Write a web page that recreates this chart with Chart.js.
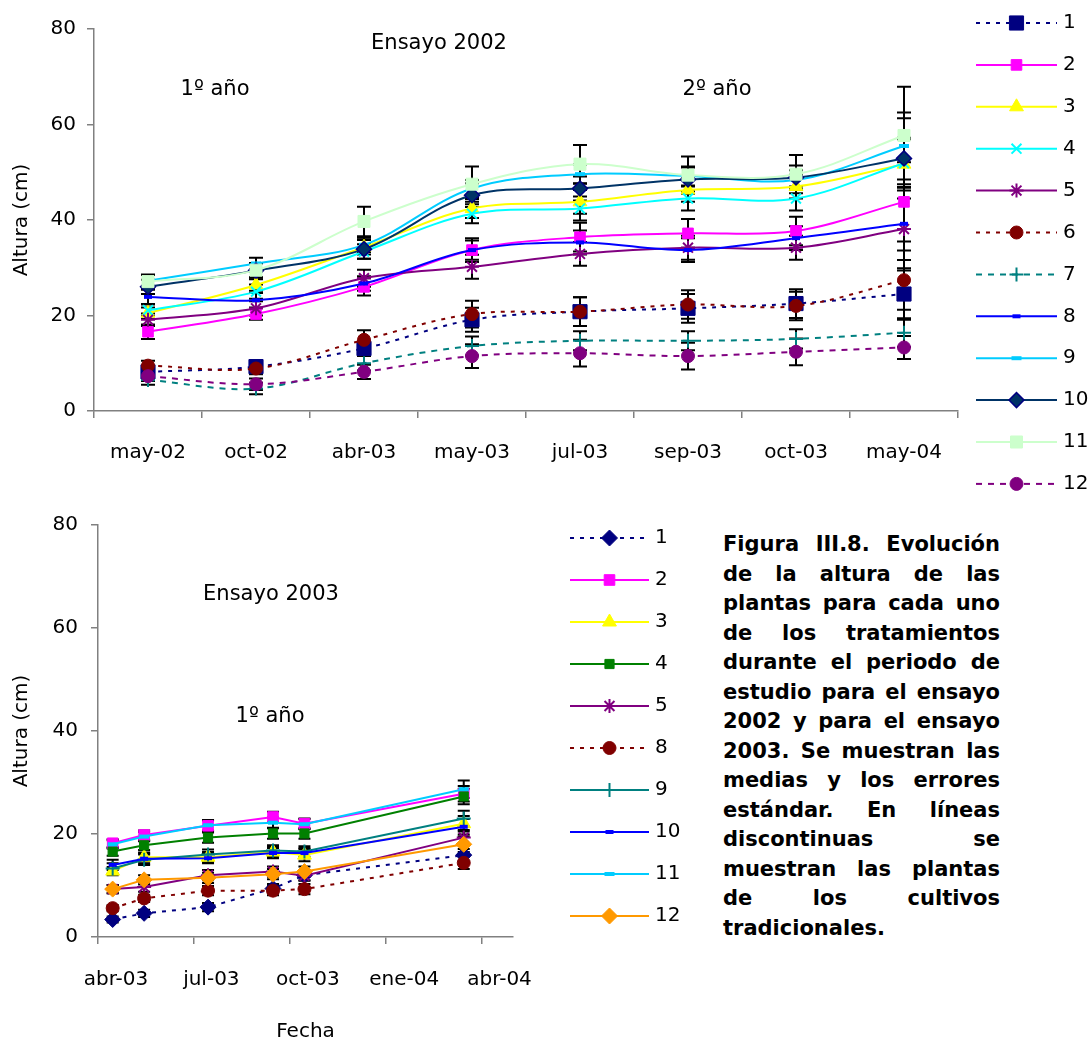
<!DOCTYPE html>
<html lang="es">
<head>
<meta charset="utf-8">
<title>Evolución de la altura de las plantas</title>
<script src="https://cdn.jsdelivr.net/npm/chart.js@4.4.1/dist/chart.umd.min.js"></script>
<style>
  html, body { margin: 0; padding: 0; background: #fff; }
  body { width: 1089px; height: 1044px; position: relative; overflow: hidden; font-family: 'DejaVu Sans', sans-serif; }
  .caja { position: absolute; }
  .nota { position: absolute; font-size: 21px; color: #000; white-space: nowrap; transform: translate(-50%, -50%); }
  #pie { position: absolute; left: 723px; top: 530px; width: 277px; font-weight: bold; font-size: 21px; line-height: 29.5px; color: #000; }
  #pie div { text-align: justify; text-align-last: justify; }
  #pie div.fin { text-align-last: left; }
</style>
</head>
<body>

<div class="caja" style="left:0;top:0;width:1089px;height:500px"><canvas id="graf2002"></canvas></div>
<div class="caja" style="left:0;top:500px;width:700px;height:544px"><canvas id="graf2003"></canvas></div>

<div class="nota" style="left:439px;top:42px">Ensayo 2002</div>
<div class="nota" style="left:215px;top:88px">1º año</div>
<div class="nota" style="left:717px;top:88px">2º año</div>
<div class="nota" style="left:271px;top:593px">Ensayo 2003</div>
<div class="nota" style="left:270px;top:715px">1º año</div>

<div id="pie">
  <div>Figura III.8. Evolución</div>
  <div>de la altura de las</div>
  <div>plantas para cada uno</div>
  <div>de los tratamientos</div>
  <div>durante el periodo de</div>
  <div>estudio para el ensayo</div>
  <div>2002 y para el ensayo</div>
  <div>2003. Se muestran las</div>
  <div>medias y los errores</div>
  <div>estándar. En líneas</div>
  <div>discontinuas se</div>
  <div>muestran las plantas</div>
  <div>de los cultivos</div>
  <div class="fin">tradicionales.</div>
</div>

<script>
// Ensayo 2002: fechas de muestreo (eje de categorías)
const fechas2002 = ['may-02', 'oct-02', 'abr-03', 'may-03', 'jul-03', 'sep-03', 'oct-03', 'may-04'];

// Altura media (cm) por tratamiento, ensayo 2002
const t1_2002  = [8.2, 9.3, 13.1, 19.1, 20.8, 21.5, 22.5, 24.5];
const t2_2002  = [16.6, 20.3, 26.0, 33.7, 36.4, 37.2, 37.7, 43.8];
const t3_2002  = [20.5, 26.4, 34.3, 42.4, 43.8, 46.3, 47.0, 51.7];
const t4_2002  = [21.1, 25.0, 33.4, 41.3, 42.4, 44.5, 44.5, 51.9];
const t5_2002  = [19.1, 21.5, 27.8, 30.2, 32.9, 34.2, 34.2, 38.1];
const t6_2002  = [9.5, 8.9, 14.9, 20.3, 20.8, 22.3, 22.0, 27.4];
const t7_2002  = [6.5, 4.7, 10.0, 13.6, 14.7, 14.7, 15.1, 16.4];
const t8_2002  = [23.9, 23.2, 26.7, 33.7, 35.3, 33.7, 36.2, 39.2];
const t9_2002  = [27.3, 30.9, 34.8, 46.6, 49.6, 49.2, 48.4, 55.5];
const t10_2002 = [26.0, 29.4, 33.9, 45.2, 46.6, 48.5, 48.9, 52.9];
const t11_2002 = [27.1, 29.5, 39.7, 47.5, 51.7, 49.4, 49.6, 57.7];
const t12_2002 = [7.3, 5.6, 8.2, 11.5, 12.1, 11.5, 12.4, 13.3];

// Error estándar (cm), ensayo 2002
const e1_2002  = [1.2, 1.2, 1.5, 2.5, 3.0, 3.0, 3.0, 5.4];
const e2_2002  = [1.5, 1.2, 1.8, 2.5, 3.0, 3.0, 3.0, 8.3];
const e3_2002  = [1.2, 1.2, 1.5, 2.0, 2.5, 2.5, 2.5, 5.5];
const e4_2002  = [1.2, 1.5, 1.5, 2.0, 2.5, 2.5, 2.5, 5.0];
const e5_2002  = [1.3, 1.5, 1.8, 2.5, 2.5, 2.5, 2.5, 8.7];
const e6_2002  = [1.0, 1.2, 2.0, 2.8, 3.0, 3.0, 3.0, 6.2];
const e7_2002  = [1.0, 1.2, 1.5, 2.0, 2.0, 2.0, 2.0, 3.0];
const e8_2002  = [1.5, 1.5, 1.5, 2.0, 2.5, 2.5, 2.5, 7.6];
const e9_2002  = [1.2, 1.2, 1.5, 1.8, 2.0, 2.0, 2.0, 7.0];
const e10_2002 = [1.5, 1.5, 2.0, 2.5, 2.5, 2.5, 2.5, 8.4];
const e11_2002 = [1.5, 1.5, 3.1, 3.7, 4.0, 3.9, 4.0, 10.2];
const e12_2002 = [1.0, 1.2, 1.5, 2.5, 2.8, 2.8, 2.8, 2.4];

// Ensayo 2003: fechas de muestreo y eje de tiempo
const fechas2003 = ['2003-04-15', '2003-05-15', '2003-07-15', '2003-09-15', '2003-10-15', '2004-03-15'];
const marcas2003 = ['2003-04-01', '2003-07-01', '2003-10-01', '2004-01-01', '2004-04-01'];
const etiquetas2003 = ['abr-03', 'jul-03', 'oct-03', 'ene-04', 'abr-04'];
const inicio2003 = '2003-04-01';
const final2003 = '2004-05-01';

// Altura media (cm) por tratamiento, ensayo 2003
const t1_2003  = [3.4, 4.6, 5.8, 9.4, 12.0, 15.9];
const t2_2003  = [18.2, 19.8, 21.6, 23.3, 22.0, 27.8];
const t3_2003  = [12.8, 15.5, 15.5, 16.5, 15.9, 22.0];
const t4_2003  = [16.6, 17.8, 19.3, 20.1, 20.1, 27.3];
const t5_2003  = [9.3, 9.7, 12.0, 12.7, 11.9, 19.3];
const t8_2003  = [5.6, 7.5, 9.0, 9.0, 9.3, 14.4];
const t9_2003  = [13.3, 15.0, 16.0, 16.8, 16.6, 23.0];
const t10_2003 = [14.0, 15.2, 15.3, 16.3, 16.3, 21.4];
const t11_2003 = [18.0, 19.5, 21.7, 22.2, 21.9, 28.7];
const t12_2003 = [9.3, 11.1, 11.5, 12.2, 12.7, 18.0];

// Error estándar (cm), ensayo 2003
const e1_2003  = [0.6, 0.7, 0.8, 0.9, 1.0, 1.2];
const e2_2003  = [0.8, 0.9, 1.0, 1.0, 1.0, 1.5];
const e3_2003  = [0.8, 0.9, 1.0, 1.0, 1.2, 1.5];
const e4_2003  = [0.8, 0.9, 1.0, 1.0, 1.0, 1.5];
const e5_2003  = [0.8, 0.9, 1.0, 1.0, 1.0, 1.5];
const e8_2003  = [0.6, 0.7, 0.9, 0.9, 1.0, 1.2];
const e9_2003  = [1.0, 1.0, 1.0, 1.0, 1.0, 1.5];
const e10_2003 = [1.0, 1.0, 1.0, 1.0, 1.0, 1.5];
const e11_2003 = [0.8, 0.9, 1.0, 1.0, 1.0, 1.7];
const e12_2003 = [0.8, 0.9, 1.0, 1.0, 1.0, 1.5];

const FUENTE = { family: "'DejaVu Sans', sans-serif", size: 20 };
const GRIS = '#808080';

// dias transcurridos desde el inicio del eje 2003
const dias = f => (Date.parse(f) - Date.parse(inicio2003)) / 86400000;

// Barras de error negras, dibujadas bajo las líneas
const barrasError = {
  id: 'barrasError',
  beforeDatasetsDraw(chart, args, opts) {
    const ctx = chart.ctx;
    const ey = chart.scales.y;
    ctx.save();
    ctx.strokeStyle = '#000';
    ctx.lineWidth = opts.grosor;
    chart.data.datasets.forEach((ds, i) => {
      const meta = chart.getDatasetMeta(i);
      meta.data.forEach((pt, j) => {
        const d = ds.data[j];
        const v = typeof d === 'object' ? d.y : d;
        const yA = ey.getPixelForValue(v + ds.errores[j]);
        const yB = ey.getPixelForValue(v - ds.errores[j]);
        ctx.beginPath();
        ctx.moveTo(pt.x, yA); ctx.lineTo(pt.x, yB);
        ctx.moveTo(pt.x - opts.ala, yA); ctx.lineTo(pt.x + opts.ala, yA);
        ctx.moveTo(pt.x - opts.ala, yB); ctx.lineTo(pt.x + opts.ala, yB);
        ctx.stroke();
      });
    });
    ctx.restore();
  }
};

// Leyenda con tramo de línea y marcador de cada serie
const leyendaLineas = {
  id: 'leyendaLineas',
  afterDraw(chart, args, opts) {
    const ctx = chart.ctx;
    ctx.save();
    chart.data.datasets.forEach((ds, i) => {
      const y = opts.arriba + i * opts.paso;
      ctx.strokeStyle = ds.borderColor;
      ctx.lineWidth = ds.borderWidth;
      ctx.setLineDash(ds.borderDash || []);
      ctx.beginPath();
      ctx.moveTo(opts.x0, y);
      ctx.lineTo(opts.x1, y);
      ctx.stroke();
      ctx.setLineDash([]);
      ctx.fillStyle = ds.pointBackgroundColor;
      ctx.strokeStyle = ds.pointBorderColor;
      ctx.lineWidth = ds.pointBorderWidth;
      Chart.helpers.drawPoint(ctx, {
        pointStyle: ds.pointStyle, radius: ds.pointRadius, rotation: 0, borderWidth: ds.pointBorderWidth
      }, (opts.x0 + opts.x1) / 2, y);
      ctx.fillStyle = '#000';
      ctx.font = FUENTE.size + 'px ' + FUENTE.family;
      ctx.textAlign = 'left';
      ctx.textBaseline = 'middle';
      ctx.fillText(ds.label, opts.textoX, y);
    });
    ctx.restore();
  }
};

function serie(label, data, errores, color, dash, estilo, radio, relleno, borde, grosorPunto) {
  return {
    label, data, errores,
    borderColor: color,
    borderWidth: 2,
    borderDash: dash,
    pointStyle: estilo,
    pointRadius: radio,
    pointHoverRadius: radio,
    pointBackgroundColor: relleno || color,
    pointBorderColor: borde || relleno || color,
    pointBorderWidth: grosorPunto || 1
  };
}

const PUNTEADO = [4, 6];
const DISCONT = [6, 6];

const series2002 = [
  serie('1', t1_2002, e1_2002, '#000080', PUNTEADO, 'rect', 10),
  serie('2', t2_2002, e2_2002, '#FF00FF', [], 'rect', 7.5),
  serie('3', t3_2002, e3_2002, '#FFFF00', [], 'triangle', 8),
  serie('4', t4_2002, e4_2002, '#00FFFF', [], 'crossRot', 7, null, null, 2),
  serie('5', t5_2002, e5_2002, '#800080', [], 'star', 7, null, null, 2),
  serie('6', t6_2002, e6_2002, '#800000', PUNTEADO, 'circle', 6.5),
  serie('7', t7_2002, e7_2002, '#008080', DISCONT, 'cross', 7, null, null, 2),
  serie('8', t8_2002, e8_2002, '#0000FF', [], 'line', 4, null, null, 4),
  serie('9', t9_2002, e9_2002, '#00CCFF', [], 'line', 5, null, null, 4),
  serie('10', t10_2002, e10_2002, '#003366', [], 'rectRot', 7.5, '#003366', '#000080', 1.5),
  serie('11', t11_2002, e11_2002, '#CCFFCC', [], 'rect', 8.5),
  serie('12', t12_2002, e12_2002, '#800080', DISCONT, 'circle', 6.5)
].map((s, i) => Object.assign(s, { order: -i, tension: 0.35 }));

const puntos = v => v.map((y, i) => ({ x: dias(fechas2003[i]), y }));

const series2003 = [
  serie('1', puntos(t1_2003), e1_2003, '#000080', PUNTEADO, 'rectRot', 8),
  serie('2', puntos(t2_2003), e2_2003, '#FF00FF', [], 'rect', 7.5),
  serie('3', puntos(t3_2003), e3_2003, '#FFFF00', [], 'triangle', 8),
  serie('4', puntos(t4_2003), e4_2003, '#008000', [], 'rect', 6.5),
  serie('5', puntos(t5_2003), e5_2003, '#800080', [], 'star', 7, null, null, 2),
  serie('8', puntos(t8_2003), e8_2003, '#800000', PUNTEADO, 'circle', 6.5),
  serie('9', puntos(t9_2003), e9_2003, '#008080', [], 'cross', 7, null, null, 2),
  serie('10', puntos(t10_2003), e10_2003, '#0000FF', [], 'line', 4, null, null, 4),
  serie('11', puntos(t11_2003), e11_2003, '#00CCFF', [], 'line', 5, null, null, 4),
  serie('12', puntos(t12_2003), e12_2003, '#FF9900', [], 'rectRot', 8)
].map((s, i) => Object.assign(s, { order: -i, tension: 0 }));

const ejeY = (ancho, relleno) => ({
  min: 0, max: 80,
  ticks: { stepSize: 20, padding: relleno, color: '#000', font: FUENTE },
  grid: { drawOnChartArea: false, tickLength: 7, color: GRIS, lineWidth: 1.5 },
  border: { color: GRIS, width: 1.5 },
  title: { display: true, text: 'Altura (cm)', color: '#000', font: FUENTE, padding: { top: 10, bottom: 0 } },
  afterFit: s => { s.width = ancho; }
});

new Chart(document.getElementById('graf2002'), {
  type: 'line',
  data: { labels: fechas2002, datasets: series2002 },
  plugins: [barrasError, leyendaLineas],
  options: {
    responsive: true,
    maintainAspectRatio: false,
    animation: false,
    layout: { padding: { top: 29, right: 131, bottom: 0, left: 0 } },
    plugins: {
      legend: { display: false },
      tooltip: { enabled: false },
      barrasError: { grosor: 2, ala: 7 },
      leyendaLineas: { x0: 976, x1: 1057, textoX: 1063, arriba: 23, paso: 41.9 }
    },
    scales: {
      x: {
        type: 'category',
        offset: true,
        grid: { offset: true, drawOnChartArea: false, tickLength: 7, color: GRIS, lineWidth: 1.5 },
        border: { color: GRIS, width: 1.5 },
        ticks: { padding: 23, color: '#000', font: FUENTE, maxRotation: 0 },
        afterFit: s => { s.height = 89; }
      },
      y: ejeY(94, 11)
    }
  }
});

new Chart(document.getElementById('graf2003'), {
  type: 'line',
  data: { datasets: series2003 },
  plugins: [barrasError, leyendaLineas],
  options: {
    responsive: true,
    maintainAspectRatio: false,
    animation: false,
    layout: { padding: { top: 18, right: 187, bottom: 0, left: 0 } },
    plugins: {
      legend: { display: false },
      tooltip: { enabled: false },
      barrasError: { grosor: 2, ala: 6 },
      leyendaLineas: { x0: 570, x1: 649, textoX: 655, arriba: 38, paso: 42 }
    },
    scales: {
      x: {
        type: 'linear',
        min: dias(inicio2003),
        max: dias(final2003),
        afterBuildTicks: s => { s.ticks = marcas2003.map(f => ({ value: dias(f) })); },
        grid: { drawOnChartArea: false, tickLength: 7, color: GRIS, lineWidth: 1.5 },
        border: { color: GRIS, width: 1.5 },
        ticks: {
          padding: 24, labelOffset: 18, color: '#000', font: FUENTE, maxRotation: 0, autoSkip: false,
          callback: (v, i) => etiquetas2003[i]
        },
        title: { display: true, text: 'Fecha', color: '#000', font: FUENTE, padding: { top: 0, bottom: 0 } },
        afterFit: s => { s.height = 107; }
      },
      y: ejeY(98, 13)
    }
  }
});
</script>
</body>
</html>
